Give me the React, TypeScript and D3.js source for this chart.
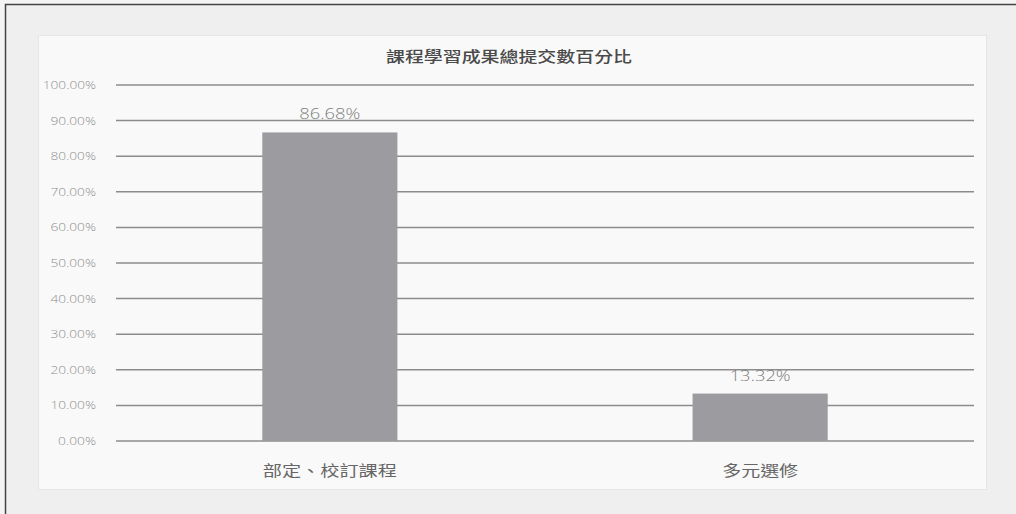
import React from "react";
import * as d3 from "d3";

const title = "課程學習成果總提交數百分比";
const categories = ["部定、校訂課程", "多元選修"];
const values = [86.68, 13.32];
const valueLabels = ["86.68%", "13.32%"];
const yTicks = [0, 10, 20, 30, 40, 50, 60, 70, 80, 90, 100];
const yTickLabels = ["0.00%", "10.00%", "20.00%", "30.00%", "40.00%", "50.00%", "60.00%", "70.00%", "80.00%", "90.00%", "100.00%"];

const W = 1016;
const H = 514;

export default function App() {
  const y = d3.scaleLinear().domain([0, 100]).range([441, 85]);
  const x = d3
    .scaleBand<string>()
    .domain(categories)
    .range([116, 974])
    .paddingInner(0.686)
    .paddingOuter(0.34);

  const cjk = "'Noto Sans CJK TC', 'Noto Sans CJK SC', sans-serif";
  const num = "'Open Sans', 'Noto Sans', sans-serif";
  const catWidths = [134, 76];

  return (
    <div style={{ position: "fixed", left: 0, top: 0, width: W, height: H }}>
      <svg width={W} height={H} style={{ display: "block" }}>
        <rect x={0} y={0} width={W} height={H} fill="#f4f4f4" />
        <rect x={5.5} y={4.5} width={W} height={H} fill="#efefef" stroke="#444" strokeWidth={1.5} />
        <rect x={38.5} y={35.5} width={948} height={454} fill="#f9f9f9" stroke="#e6e6e6" strokeWidth={1} />
        <text
          x={509}
          y={62}
          textAnchor="middle"
          fontFamily={cjk}
          fontSize={15}
          fontWeight={500}
          fill="#4a4a4a"
          textLength={246}
          lengthAdjust="spacingAndGlyphs"
        >
          {title}
        </text>
        {yTicks.map((t, i) => (
          <g key={t}>
            <line x1={116} x2={974} y1={y(t)} y2={y(t)} stroke="#8c8c8c" strokeWidth={1.5} />
            <text
              x={96}
              y={y(t)}
              dy="0.35em"
              textAnchor="end"
              fontFamily={num}
              fontSize={11.5}
              fontWeight={300}
              fill="#8f8f8f"
              textLength={yTickLabels[i].length * 7.6}
              lengthAdjust="spacingAndGlyphs"
            >
              {yTickLabels[i]}
            </text>
          </g>
        ))}
        {categories.map((c, i) => {
          const bx = x(c)!;
          const bw = x.bandwidth();
          const cx = bx + bw / 2;
          return (
            <g key={c}>
              <rect x={bx} y={y(values[i])} width={bw} height={y(0) - y(values[i])} fill="#9c9ca0" />
              <text
                x={cx}
                y={y(values[i]) - 13}
                textAnchor="middle"
                fontFamily={num}
                fontSize={15}
                fontWeight={300}
                fill="#808080"
                textLength={61}
                lengthAdjust="spacingAndGlyphs"
              >
                {valueLabels[i]}
              </text>
              <text
                x={cx}
                y={476}
                textAnchor="middle"
                fontFamily={cjk}
                fontSize={15}
                fill="#666"
                textLength={catWidths[i]}
                lengthAdjust="spacingAndGlyphs"
              >
                {c}
              </text>
            </g>
          );
        })}
      </svg>
    </div>
  );
}
